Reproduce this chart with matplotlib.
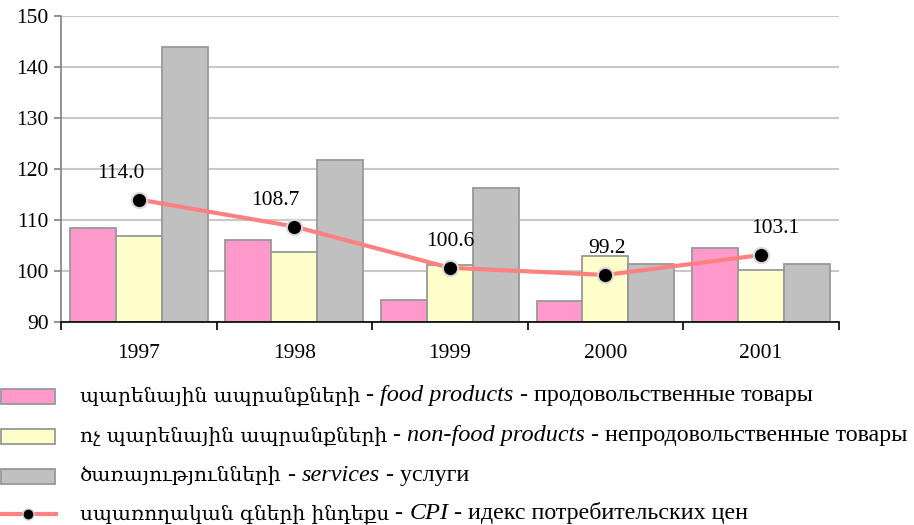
import matplotlib
matplotlib.use("Agg")
import numpy as np
import matplotlib.pyplot as plt
from matplotlib.patches import Rectangle
from matplotlib.lines import Line2D

plt.rcParams['font.family'] = ['Liberation Serif', 'DejaVu Serif', 'DejaVu Sans']

# data
years = ["1997", "1998", "1999", "2000", "2001"]
food = [108.5, 106.1, 94.3, 94.0, 104.5]
nonfood = [106.9, 103.7, 101.2, 103.0, 100.2]
services = [144.0, 121.7, 116.3, 101.4, 101.4]
cpi = [114.0, 108.7, 100.6, 99.2, 103.1]

# legend labels: armenian / english / russian
arm_labels = ["պարենային ապրանքների", "ոչ պարենային ապրանքների",
              "ծառայությունների", "սպառողական գների ինդեքս"]
eng_labels = ["food products", "non-food products", "services", "CPI"]
rus_labels = ["продовольственные товары", "непродовольственные товары",
              "услуги", "идекс потребительских цен"]

colors = ["#ff99cc", "#ffffcc", "#c0c0c0"]
edge = "#999999"
line_color = "#ff8080"

W, H = 914, 525
fig = plt.figure(figsize=(W / 100, H / 100), dpi=100)
ax = fig.add_axes([0.0667, 0.387, 0.851, 0.5825])

x = np.arange(len(years))
w = 0.295
for i, (vals, c) in enumerate(zip([food, nonfood, services], colors)):
    ax.bar(x + (i - 1) * w, np.array(vals) - 90, w, bottom=90, color=c,
           edgecolor=edge, linewidth=1.3, zorder=2)

ax.plot(x, cpi, color=line_color, lw=3, zorder=3)
ax.plot(x, cpi, 'o', color="black", markersize=11, markeredgecolor="#d8d8d8",
        markeredgewidth=1.5, zorder=4)

# label offsets (points)
dx = [-13, -14, 0, 1, 10]
for xi, v, d in zip(x, cpi, dx):
    ax.annotate(f"{v:.1f}", (xi, v), xytext=(d, 19), textcoords="offset points",
                ha="center", va="center", fontsize=15.5)

ax.set_xlim(-0.5, len(years) - 0.5)
ax.set_ylim(90, 150)
ax.set_yticks(range(90, 151, 10))
ax.yaxis.grid(True, color="#c8c8c8", lw=1.5, zorder=0)
ax.set_axisbelow(True)

ax.set_xticks(x)
ax.set_xticklabels(years)
ax.set_xticks(np.arange(-0.5, len(years)), minor=True)
ax.tick_params(axis='x', which='major', length=0, labelsize=15.5, pad=16)
ax.tick_params(axis='x', which='minor', length=6, width=1.2, direction='out')
ax.tick_params(axis='y', length=5, width=1.2, labelsize=15.5, color="#808080", pad=4)

for s in ["top", "right"]:
    ax.spines[s].set_visible(False)
ax.spines["left"].set_color("#808080")
ax.spines["left"].set_linewidth(1.2)
ax.spines["bottom"].set_color("black")
ax.spines["bottom"].set_linewidth(1.2)

# legend, drawn by hand below the plot
row_y = [396, 436, 476, 514]
renderer = fig.canvas.get_renderer()
for k in range(4):
    yc = 1 - row_y[k] / H
    if k < 3:
        fig.patches.append(Rectangle((1 / W, yc - 7.5 / H), 54 / W, 15 / H,
                                     transform=fig.transFigure, facecolor=colors[k],
                                     edgecolor=edge, linewidth=1.3))
    else:
        fig.add_artist(Line2D([0, 56 / W], [yc, yc], transform=fig.transFigure,
                              color=line_color, lw=3))
        fig.add_artist(Line2D([28 / W], [yc], transform=fig.transFigure, marker='o',
                              markersize=8, color="black", markeredgecolor="#d8d8d8"))
    pieces = [
        (arm_labels[k], ['DejaVu Serif', 'DejaVu Sans'], 'normal', 14.5),
        (" - ", ['Liberation Serif'], 'normal', 17.3),
        (eng_labels[k], ['Liberation Serif'], 'italic', 17.5),
        (" - " + rus_labels[k], ['Liberation Serif'], 'normal', 17.3),
    ]
    xp = 80
    for txt, fam, style, size in pieces:
        t = fig.text(xp / W, yc - 5 / H, txt, family=fam, fontstyle=style,
                     fontsize=size, va='baseline', ha='left')
        bb = t.get_window_extent(renderer)
        xp = bb.x1

fig.savefig("out.png", dpi=100)
